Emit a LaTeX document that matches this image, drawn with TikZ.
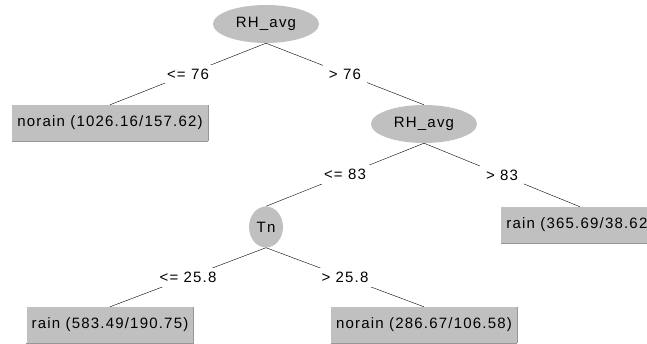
\documentclass[tikz,border=0pt]{standalone}
\usepackage{fontspec}
\newfontfamily\wekafont{Liberation Sans}[LetterSpace=8]
\usepackage{tikz}
\usetikzlibrary{shapes}
\usetikzlibrary{positioning}
\definecolor{wekagray}{RGB}{192,192,192}
\definecolor{wekadark}{RGB}{150,150,150}
\tikzset{
    split/.style={ellipse,fill=wekagray,inner sep=0pt,minimum width=106pt,minimum height=38pt},
    leaf/.style={rectangle,fill=wekagray,minimum height=36pt,inner xsep=5pt,
        append after command={(\tikzlastnode.south west) edge[draw=wekadark] (\tikzlastnode.south east)
            (\tikzlastnode.south east) edge[draw=wekadark] (\tikzlastnode.north east)}},
    cond/.style={fill=white,inner xsep=6pt,inner ysep=4pt},
}

\begin{document}
\begin{tikzpicture}[font=\wekafont\fontsize{15}{18}\selectfont, on grid]
\useasboundingbox[fill=white] (0,0) rectangle (647pt,-344pt);
\node[split] (root) at (266pt,-24pt) {RH\_avg};
\node[leaf] (norainA) [below left=99pt and 156pt of root] {norain (1026.16/157.62)};
\node[split] (rhavg) [below right=100pt and 158pt of root] {RH\_avg};
\node[split,minimum width=34pt,minimum height=41pt] (tn) [below left=103pt and 158pt of rhavg] {Tn};
\node[leaf] (rainA) [below right=101pt and 156pt of rhavg] {rain (365.69/38.62)};
\node[leaf] (rainB) [below left=98pt and 156pt of tn] {rain (583.49/190.75)};
\node[leaf] (norainB) [below right=98pt and 158pt of tn] {norain (286.67/106.58)};
\draw (root.south) -- node[cond] {<= 76} (norainA.north);
\draw (root.south) -- node[cond] {> 76} (rhavg.north);
\draw (rhavg.south) -- node[cond] {<= 83} (tn.north);
\draw (rhavg.south) -- node[cond] {> 83} (rainA.north);
\draw (tn.south) -- node[cond] {<= 25.8} (rainB.north);
\draw (tn.south) -- node[cond] {> 25.8} (norainB.north);
\end{tikzpicture}
\end{document}
